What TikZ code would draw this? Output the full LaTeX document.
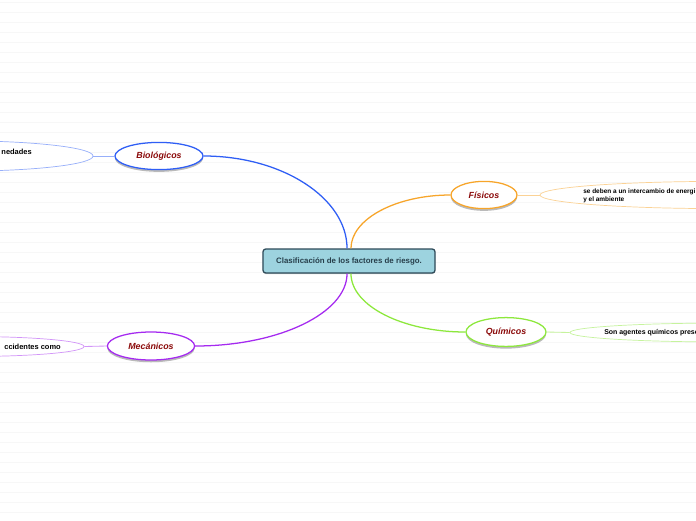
\documentclass[tikz,border=0pt]{standalone}
\usepackage{fontspec}
\setmainfont{Liberation Sans}
\usetikzlibrary{shapes.geometric,shadows}
\definecolor{hubfill}{HTML}{9DD3DF}
\definecolor{hubline}{HTML}{2E4A58}
\definecolor{bioblue}{HTML}{2F5EF5}
\definecolor{fisorange}{HTML}{F7A52A}
\definecolor{quigreen}{HTML}{8DE83C}
\definecolor{mecpurple}{HTML}{A52AF0}
\definecolor{topictext}{HTML}{8B0A0A}

\begin{document}
\begin{tikzpicture}[x=0.025cm, y=-0.025cm,
    hub/.style={draw=hubline, fill=hubfill, line width=0.9pt, rounded corners=2pt, minimum width=4.3cm, minimum height=0.6cm, inner sep=0pt, font=\fontsize{5.6}{6.5}\selectfont\bfseries, text=hubline!85!black, drop shadow={shadow xshift=0pt, shadow yshift=-0.8pt, fill=black!40, opacity=0.5}},
    topic/.style={ellipse, draw=#1, fill=white, line width=0.9pt, inner sep=0pt, font=\fontsize{6.3}{7}\selectfont\bfseries\itshape, text=topictext, drop shadow={shadow xshift=0pt, shadow yshift=-1.6pt, fill=black!45, opacity=0.6}},
    note/.style={ellipse, draw=#1!50, fill=white, line width=0.5pt, inner sep=0pt},
    notetext/.style={inner sep=0pt, font=\fontsize{5.3}{6}\selectfont\bfseries, align=left},
    branch/.style={line width=0.9pt, draw=#1},
    twig/.style={line width=0.6pt, draw=#1!50}]

    \useasboundingbox (0,0) rectangle (696,520);
    \clip (0,0) rectangle (696,520);
    \fill[white] (0,0) rectangle (696,520);
    % lined paper
    \foreach \row in {2.7,12.7,...,520}
        \draw[black!3, line width=0.9pt] (0,\row) -- (696,\row);

    \node[hub] (hub) at (349,261) {Clasificación de los factores de riesgo.};

    \node[topic=bioblue, minimum width=2.2cm, minimum height=0.68cm] (bio) at (159,156) {Biológicos};
    \node[topic=fisorange, minimum width=1.65cm, minimum height=0.68cm] (fis) at (484,195) {Físicos};
    \node[topic=quigreen, minimum width=2.0cm, minimum height=0.72cm] (qui) at (506,332) {Químicos};
    \node[topic=mecpurple, minimum width=2.18cm, minimum height=0.7cm] (mec) at (151,346) {Mecánicos};

    \node[note=bioblue, minimum width=6.65cm, minimum height=0.76cm] (bionote) at (-40,156) {};
    \node[notetext, anchor=east] (bionotetext) at (32,152) {nedades};
    \node[note=fisorange, minimum width=9.0cm, minimum height=0.68cm] (fisnote) at (720,195) {};
    \node[notetext, anchor=west, font=\fontsize{4.6}{5.3}\selectfont\bfseries] (fisnotetext) at (583,196) {se deben a un intercambio de energi\\y el ambiente};
    \node[note=quigreen, minimum width=7.5cm, minimum height=0.47cm] (quinote) at (720,332.5) {};
    \node[notetext, anchor=west, font=\fontsize{4.95}{6}\selectfont\bfseries] (quinotetext) at (604,332.5) {Son agentes químicos prese};
    \node[note=mecpurple, minimum width=5.7cm, minimum height=0.5cm] (mecnote) at (-30,346.5) {};
    \node[notetext, anchor=east] (mecnotetext) at (61,346.5) {ccidentes como};

    \draw[branch=bioblue] ([xshift=-1.4pt]hub.north) .. controls (347,198) and (282,156) .. (bio.east);
    \draw[branch=fisorange] ([xshift=1.4pt]hub.north) .. controls (351,219) and (396,195) .. (fis.west);
    \draw[branch=quigreen] ([xshift=1.4pt]hub.south) .. controls (351,306) and (403,332) .. (qui.west);
    \draw[branch=mecpurple] ([xshift=-1.4pt]hub.south) .. controls (347,313) and (279,346) .. (mec.east);

    \draw[twig=bioblue] (bio.west) -- (bionote.east);
    \draw[twig=fisorange] (fis.east) -- (fisnote.west);
    \draw[twig=quigreen] (qui.east) -- (quinote.west);
    \draw[twig=mecpurple] (mec.west) -- (mecnote.east);
\end{tikzpicture}
\end{document}
